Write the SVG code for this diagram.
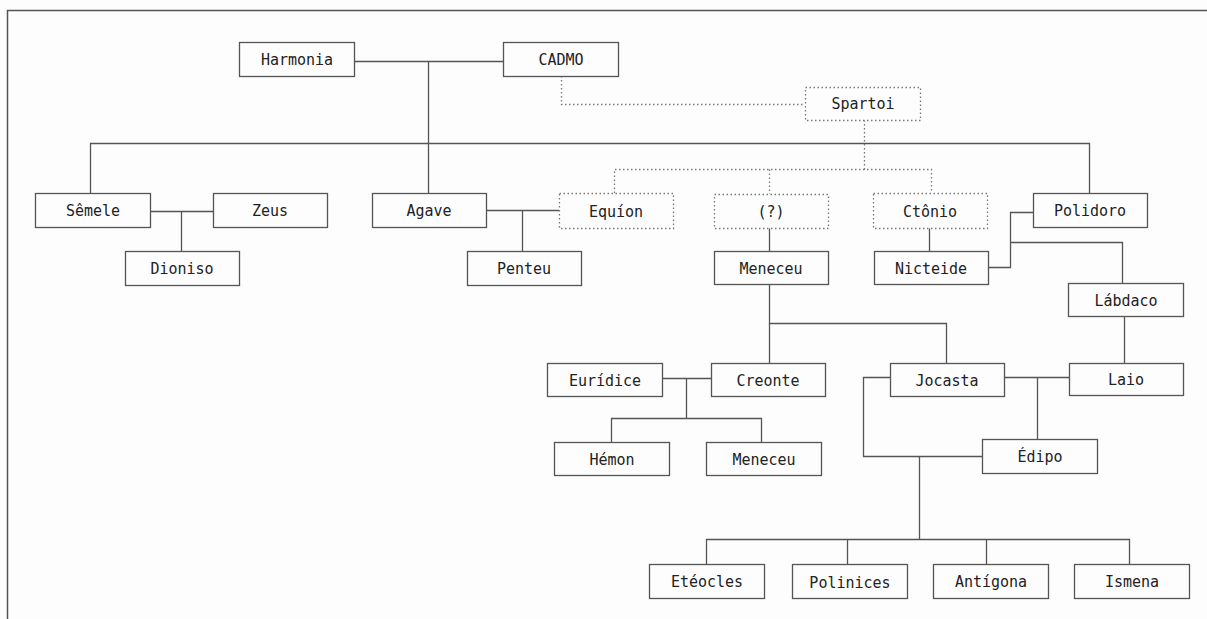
<svg xmlns="http://www.w3.org/2000/svg" width="1207" height="619" viewBox="0 0 1207 619">
<style>
.bg{fill:#fdfdfd}
.frame{fill:none;stroke:#555;stroke-width:1.5}
.box rect{fill:#fdfdfd;stroke:#555;stroke-width:1.3}
.dot rect{fill:#fdfdfd;stroke:#777;stroke-width:1.3;stroke-dasharray:1.5 2.5}
text{font-family:"DejaVu Sans Mono","Liberation Mono",monospace;font-size:15px;fill:#222;text-anchor:middle}
.ln{fill:none;stroke:#555;stroke-width:1.3}
.dl{fill:none;stroke:#777;stroke-width:1.3;stroke-dasharray:1.5 2.5}
</style>
<rect class="bg" x="0" y="0" width="1207" height="619"/>
<rect class="frame" x="7.5" y="10.5" width="1210" height="620"/>
<g id="connectors">
<path class="ln" d="M354 61.5 H503.5"/>
<path class="ln" d="M428.5 61.5 V193"/>
<path class="ln" d="M90.5 193 V143.5 H1089.5 V193"/>
<path class="ln" d="M150 211.5 H213 M181.5 211.5 V251"/>
<path class="ln" d="M486 210.5 H559 M522.5 210.5 V251"/>
<path class="ln" d="M769.5 228 V251"/>
<path class="ln" d="M929.5 228 V251"/>
<path class="ln" d="M988 267.5 H1010.5 V212.5 H1033 M1010.5 242.5 H1122.5 V283"/>
<path class="ln" d="M769.5 284 V323.5 H946.5 V363"/>
<path class="ln" d="M769.5 323.5 V363"/>
<path class="ln" d="M662 378.5 H711 M686.5 378.5 V418.5 M611.5 442 V418.5 H761.5 V442"/>
<path class="ln" d="M1124.5 316 V363"/>
<path class="ln" d="M1004 377.5 H1069 M1037.5 377.5 V439"/>
<path class="ln" d="M890 377.5 H863.5 V456.5 H982"/>
<path class="ln" d="M919.5 456.5 V539.5 M706.5 564 V539.5 H1129.5 V564 M847.5 539.5 V564 M986.5 539.5 V564"/>
<path class="dl" d="M561.5 76 V104.5 H805"/>
<path class="dl" d="M864.5 120 V169.5 M614.5 193 V169.5 H931.5 V193 M769.5 169.5 V194"/>
</g>
<g id="harmonia" class="box"><rect x="239.5" y="42.5" width="115" height="34"/><text x="297" y="65">Harmonia</text></g>
<g id="cadmo" class="box"><rect x="503.5" y="42.5" width="115" height="34"/><text x="561" y="65">CADMO</text></g>
<g id="spartoi" class="dot"><rect x="805.5" y="87.5" width="115" height="33"/><text x="863" y="109">Spartoi</text></g>
<g id="semele" class="box"><rect x="35.5" y="193.5" width="115" height="34"/><text x="93" y="216">Sêmele</text></g>
<g id="zeus" class="box"><rect x="213.5" y="193.5" width="114" height="34"/><text x="270" y="216">Zeus</text></g>
<g id="dioniso" class="box"><rect x="125.5" y="251.5" width="114" height="34"/><text x="182" y="274">Dioniso</text></g>
<g id="agave" class="box"><rect x="372.5" y="193.5" width="114" height="34"/><text x="429" y="216">Agave</text></g>
<g id="penteu" class="box"><rect x="467.5" y="251.5" width="114" height="34"/><text x="524" y="274">Penteu</text></g>
<g id="equion" class="dot"><rect x="559.5" y="193.5" width="114" height="35"/><text x="616" y="216.5">Equíon</text></g>
<g id="desconhecido" class="dot"><rect x="714.5" y="194.5" width="114" height="34"/><text x="771" y="217">(?)</text></g>
<g id="ctonio" class="dot"><rect x="873.5" y="193.5" width="114" height="35"/><text x="930" y="216.5">Ctônio</text></g>
<g id="polidoro" class="box"><rect x="1033.5" y="193.5" width="114" height="34"/><text x="1090" y="216">Polidoro</text></g>
<g id="meneceu" class="box"><rect x="714.5" y="251.5" width="114" height="33"/><text x="771" y="273.5">Meneceu</text></g>
<g id="nicteide" class="box"><rect x="874.5" y="251.5" width="114" height="33"/><text x="931" y="273.5">Nicteide</text></g>
<g id="labdaco" class="box"><rect x="1068.5" y="283.5" width="115" height="33"/><text x="1126" y="305.5">Lábdaco</text></g>
<g id="euridice" class="box"><rect x="547.5" y="363.5" width="115" height="33"/><text x="605" y="385.5">Eurídice</text></g>
<g id="creonte" class="box"><rect x="711.5" y="363.5" width="114" height="33"/><text x="768" y="385.5">Creonte</text></g>
<g id="jocasta" class="box"><rect x="890.5" y="363.5" width="114" height="33"/><text x="947" y="385.5">Jocasta</text></g>
<g id="laio" class="box"><rect x="1069.5" y="363.5" width="114" height="32"/><text x="1126" y="385">Laio</text></g>
<g id="hemon" class="box"><rect x="554.5" y="442.5" width="115" height="33"/><text x="612" y="464.5">Hémon</text></g>
<g id="meneceu2" class="box"><rect x="706.5" y="442.5" width="115" height="33"/><text x="764" y="464.5">Meneceu</text></g>
<g id="edipo" class="box"><rect x="982.5" y="439.5" width="115" height="34"/><text x="1040" y="462">Édipo</text></g>
<g id="eteocles" class="box"><rect x="649.5" y="564.5" width="115" height="34"/><text x="707" y="587">Etéocles</text></g>
<g id="polinices" class="box"><rect x="792.5" y="564.5" width="115" height="34"/><text x="850" y="588">Polinices</text></g>
<g id="antigona" class="box"><rect x="933.5" y="564.5" width="115" height="34"/><text x="991" y="587">Antígona</text></g>
<g id="ismena" class="box"><rect x="1074.5" y="564.5" width="115" height="34"/><text x="1132" y="587">Ismena</text></g>
</svg>
